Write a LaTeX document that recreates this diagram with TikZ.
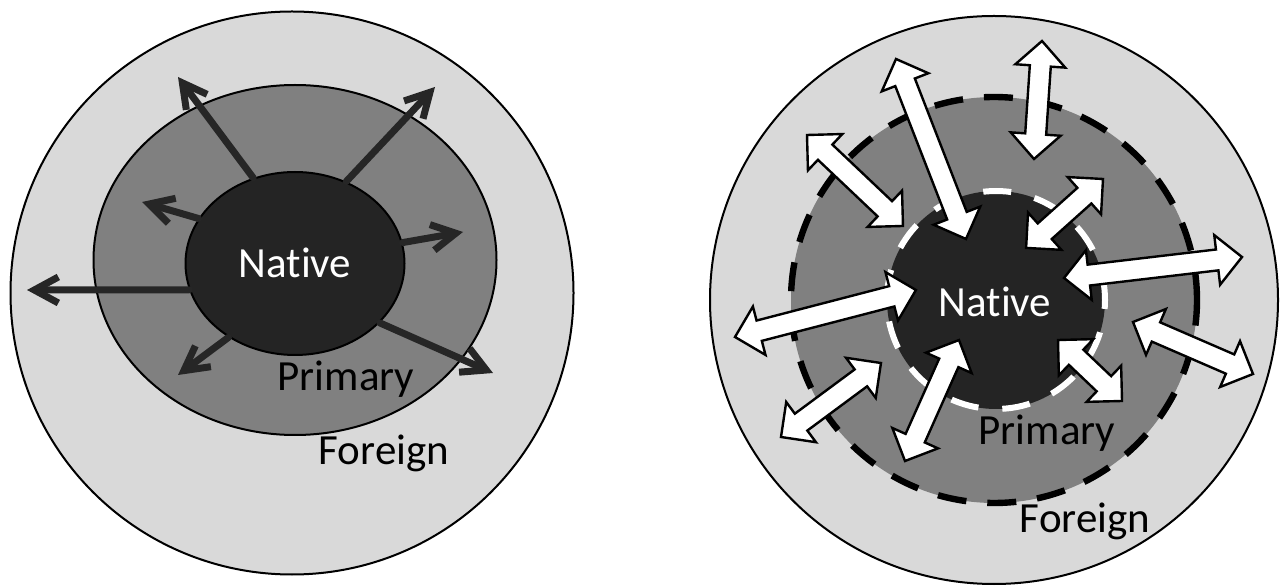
\documentclass[tikz,border=0pt]{standalone}
\usepackage{fontspec}
\setmainfont{Carlito}[Ligatures=NoCommon]
\usetikzlibrary{arrows.meta,shapes.geometric,calc}

% double-headed block arrow between two named points
\newcommand\twoway[2]{%
  \draw[twoway] let \p1=(#1), \p2=(#2), \n1={atan2(\y2-\y1,\x2-\x1)}, \n2={veclen(\x2-\x1,\y2-\y1)} in
    [shift={(\p1)}, rotate=\n1] (0pt,0pt) -- (12.5pt,12.5pt) -- (12.5pt,5.25pt) -- ({\n2-12.5pt},5.25pt)
    -- ({\n2-12.5pt},12.5pt) -- (\n2,0pt) -- ({\n2-12.5pt},-12.5pt) -- ({\n2-12.5pt},-5.25pt)
    -- (12.5pt,-5.25pt) -- (12.5pt,-12.5pt) -- cycle;}

\begin{document}
\begin{tikzpicture}[x=0.5pt, y=-0.5pt,
  ring/.style={circle, draw, line width=1pt, inner sep=0pt},
  oval/.style={ellipse, draw, line width=1pt, inner sep=0pt},
  lbl/.style={font=\fontsize{21.5}{24}\selectfont, inner sep=0pt},
  spread/.style={draw=black!85, line width=3.5pt, line cap=round, -{Straight Barb[length=12pt,width=13pt]}},
  twoway/.style={draw=black, fill=white, line width=1.2pt, line join=miter}]
\useasboundingbox (0,0) rectangle (1280,587);

% left: one-way spread
\node[ring, fill=black!15, minimum size=281.5pt] (for1) at (292,293) {};
\node[oval, fill=black!50, minimum width=201.5pt, minimum height=175pt] (pri1) at (295,260) {};
\node[oval, fill=black!86, minimum width=109.5pt, minimum height=91.5pt] (nat1) at (295,263.5) {};
\coordinate (l1) at (178,77);  \coordinate (l2) at (435,87);
\coordinate (l3) at (142,202); \coordinate (l4) at (463,232);
\coordinate (l5) at (27,290);  \coordinate (l6) at (178,375);
\coordinate (l7) at (493,373);
\draw[spread] (nat1.116) -- (l1); \draw[spread] (nat1.58) -- (l2);
\draw[spread] (nat1.155) -- (l3); \draw[spread] (nat1.11) -- (l4);
\draw[spread] (nat1.194) -- (l5); \draw[spread] (nat1.228) -- (l6);
\draw[spread] (nat1.325) -- (l7);
\node[lbl, text=white] (natlbl1) at (295,263) {Native};
\node[lbl] (prilbl1) at (346,379) {Primary};
\node[lbl] (forlbl1) at (384,453) {Foreign};

% right: two-way exchange
\node[ring, fill=black!15, minimum size=284pt] (for2) at (994,300) {};
\node[circle, inner sep=0pt, fill=black!50, draw=black, line width=3.2pt, dash pattern=on 14.5pt off 10.5pt, minimum size=203pt] (pri2) at (994,300) {};
\node[circle, inner sep=0pt, fill=black!86, draw=white, line width=3pt, dash pattern=on 14pt off 12pt, minimum size=109pt] (nat2) at (996,300) {};
\foreach \ax/\ay/\bx/\by [count=\i] in {1042/41/1034/159, 896/59/966/239, 807/135/903/226, 1103/179/1026/248,
    1242/257/1064/278, 735/337/916/290, 1253/374/1133/322, 1122/401/1058/340, 781/437/881/363, 905/461/959/340}{
  \coordinate (p\i) at (\ax,\ay);
  \coordinate (q\i) at (\bx,\by);
  \twoway{p\i}{q\i}
}
\node[lbl, text=white] (natlbl2) at (995,302) {Native};
\node[lbl] (prilbl2) at (1047,433) {Primary};
\node[lbl] (forlbl2) at (1085,521) {Foreign};
\end{tikzpicture}
\end{document}
